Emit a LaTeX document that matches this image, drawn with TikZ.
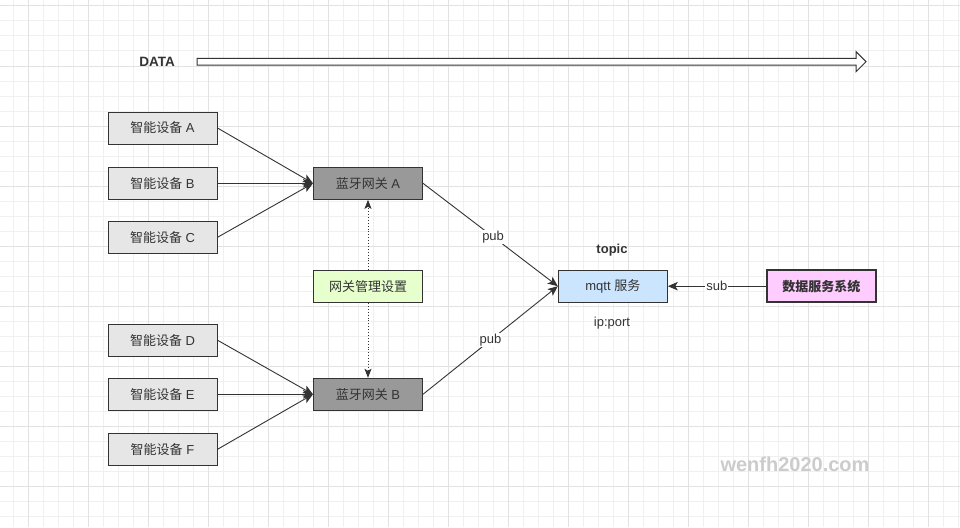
\documentclass[tikz,border=0pt]{standalone}
\usepackage{fontspec}
\setmainfont{Liberation Sans}
\newfontfamily\cjk{Noto Sans CJK SC}
\usetikzlibrary{arrows.meta}
\definecolor{txt}{HTML}{333333}
\definecolor{gminor}{HTML}{F0F0F0}
\definecolor{gmajor}{HTML}{E2E2E2}
\definecolor{devfill}{HTML}{E6E6E6}
\definecolor{gwfill}{HTML}{999999}
\definecolor{mgfill}{HTML}{E6FFCC}
\definecolor{mqfill}{HTML}{CCE5FF}
\definecolor{dsfill}{HTML}{FFCCFF}
\definecolor{wm}{HTML}{CCCCCC}
\tikzset{
  box/.style={draw=txt, line width=1pt, minimum width=109pt, minimum height=32pt, inner sep=0pt,
    font=\fontsize{13}{15}\selectfont, text=txt},
  dev/.style={box, fill=devfill},
  gw/.style={box, fill=gwfill},
  conn/.style={draw=txt, line width=0.9pt, -{Stealth[length=10pt,width=8.5pt,inset=2.5pt]}},
  dotconn/.style={draw=txt, line width=0.9pt, dotted, -{Stealth[length=9pt,width=7pt,inset=2pt]}},
  lbl/.style={fill=white, inner sep=1pt, text=txt, font=\fontsize{13}{15}\selectfont},
  plain/.style={text=txt, inner sep=0pt, font=\fontsize{13}{15}\selectfont}
}
\begin{document}
\begin{tikzpicture}[x=1pt,y=-1pt]
\useasboundingbox (0,0) rectangle (960,527);
\fill[white] (0,0) rectangle (960,527);
% grid
\foreach \i in {0,...,63} \draw[gminor, line width=1pt] ({13.3+15*\i},0) -- ({13.3+15*\i},527);
\foreach \j in {0,...,35} \draw[gminor, line width=1pt] (0,{6+15*\j}) -- (960,{6+15*\j});
\foreach \i in {0,...,15} \draw[gmajor, line width=1pt] ({28.3+60*\i},0) -- ({28.3+60*\i},527);
\foreach \j in {0,...,8} \draw[gmajor, line width=1pt] (0,{6+60*\j}) -- (960,{6+60*\j});

% DATA arrow
\node[plain, font=\bfseries\fontsize{13.5}{15}\selectfont] (data) at (157,61.5) {DATA};
\draw[txt, line width=1pt, fill=white] (197,58.3) -- (856,58.3) -- (856,51.7) -- (866,61.7) -- (856,71.7) -- (856,65) -- (197,65) -- cycle;

% devices
\node[dev] (da) at (162.5,128) {{\cjk 智能设备} A};
\node[dev] (db) at (162.5,183.3) {{\cjk 智能设备} B};
\node[dev] (dc) at (162.5,237.3) {{\cjk 智能设备} C};
\node[dev] (dd) at (162.5,340.2) {{\cjk 智能设备} D};
\node[dev] (de) at (162.5,394.3) {{\cjk 智能设备} E};
\node[dev] (df) at (162.5,449.3) {{\cjk 智能设备} F};

% gateways
\node[gw] (ga) at (368,183.3) {{\cjk 蓝牙网关} A};
\node[gw] (gb) at (368,394.3) {{\cjk 蓝牙网关} B};
\node[box, fill=mgfill] (mg) at (368,286.5) {\cjk 网关管理设置};

% mqtt
\node[box, fill=mqfill] (mq) at (612.8,286.2) {mqtt {\cjk 服务}};
\node[box, fill=dsfill, line width=2pt, font=\bfseries\fontsize{13}{15}\selectfont] (ds) at (821.3,286.2) {\cjk\bfseries 数据服务系统};
\node[plain, font=\bfseries\fontsize{13}{15}\selectfont] (topic) at (612,250.5) {topic};
\node[plain] (ipport) at (612,323) {ip:port};

% connectors
\draw[conn] (da.east) -- (ga.west);
\draw[conn] (db.east) -- (ga.west);
\draw[conn] (dc.east) -- (ga.west);
\draw[conn] (dd.east) -- (gb.west);
\draw[conn] (de.east) -- (gb.west);
\draw[conn] (df.east) -- (gb.west);
\draw[conn] (ga.east) -- node[lbl, pos=0.52] {pub} (mq.west);
\draw[conn] (gb.east) -- node[lbl] {pub} (mq.west);
\draw[conn] (ds.west) -- node[lbl] {sub} (mq.east);
\draw[dotconn] (mg.north) -- (ga.south);
\draw[dotconn] (mg.south) -- (gb.north);

% watermark
\node[text=wm, inner sep=0pt, font=\bfseries\fontsize{20}{22}\selectfont] (wmark) at (795,464) {wenfh2020.com};
\end{tikzpicture}
\end{document}
